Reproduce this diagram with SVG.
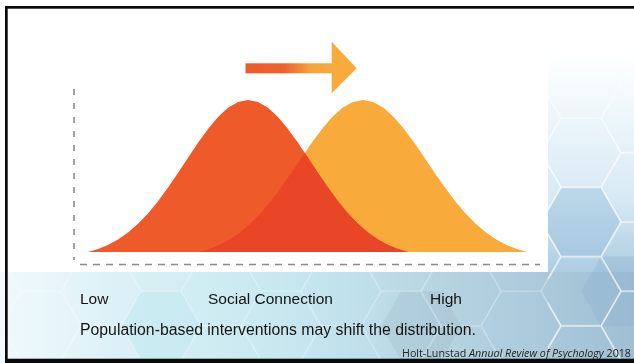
<svg xmlns="http://www.w3.org/2000/svg" width="634" height="363" viewBox="0 0 634 363">
  <defs>
    <style>
      .lbl { font-family: "Liberation Sans", Arial, sans-serif; font-size: 15.5px; fill: #141414; }
      .cite { font-family: "Open Sans", "Liberation Sans", sans-serif; font-size: 10.5px; fill: #222; }
      .axis { fill: none; stroke: #8a8a8a; stroke-width: 1.6; }
      .frame { fill: #0a0a0a; }
    </style>
    <linearGradient id="gRight" x1="0" y1="0" x2="0" y2="363" gradientUnits="userSpaceOnUse">
      <stop offset="0" stop-color="#ffffff"/>
      <stop offset="0.14" stop-color="#ffffff"/>
      <stop offset="0.3" stop-color="#f0f7fb"/>
      <stop offset="0.55" stop-color="#d6e9f4"/>
      <stop offset="0.75" stop-color="#adcde3"/>
      <stop offset="1" stop-color="#9dbcd2"/>
    </linearGradient>
    <linearGradient id="gBottom" x1="0" y1="0" x2="634" y2="0" gradientUnits="userSpaceOnUse">
      <stop offset="0" stop-color="#f1f9fc"/>
      <stop offset="0.22" stop-color="#d7f0f6"/>
      <stop offset="0.5" stop-color="#c4e5ee"/>
      <stop offset="0.72" stop-color="#b4d2e0"/>
      <stop offset="1" stop-color="#a0bfd4"/>
    </linearGradient>
    <linearGradient id="gArrow" x1="245" y1="0" x2="332" y2="0" gradientUnits="userSpaceOnUse">
      <stop offset="0" stop-color="#EE5A2A"/>
      <stop offset="0.45" stop-color="#EF602B"/>
      <stop offset="0.75" stop-color="#F6A23A"/>
      <stop offset="1" stop-color="#F8AA3B"/>
    </linearGradient>
    <pattern id="honey" x="1" y="14.08" width="120" height="69.28" patternUnits="userSpaceOnUse">
      <path d="M0,34.64 L20,0 L60,0 L80,34.64 L60,69.28 L20,69.28 Z M80,34.64 L120,34.64" fill="none" stroke="#ffffff" stroke-width="1.6" stroke-opacity="0.75"/>
    </pattern>
    <linearGradient id="fadeG" x1="0" y1="40" x2="0" y2="140" gradientUnits="userSpaceOnUse">
      <stop offset="0" stop-color="#fff" stop-opacity="0"/>
      <stop offset="1" stop-color="#fff" stop-opacity="1"/>
    </linearGradient>
    <mask id="fadeM">
      <rect x="0" y="0" width="634" height="363" fill="url(#fadeG)"/>
    </mask>
    <clipPath id="redClip">
      <polygon points="88,252 98,248.99 108,244.88 118,239.45 128,232.48 138,223.81 148,213.38 158,201.24 168,187.6 178,172.91 188,157.71 198,142.77 208,128.9 218,116.97 228,107.78 238,101.98 248,100 258,101.98 268,107.78 278,116.97 288,128.9 298,142.77 308,157.71 318,172.91 328,187.6 338,201.24 348,213.38 358,223.81 368,232.48 378,239.45 388,244.88 398,248.99 408,252"/>
    </clipPath>
  </defs>

  <g id="background">
    <rect x="0" y="0" width="634" height="363" fill="#ffffff"/>
    <rect x="548" y="0" width="86" height="363" fill="url(#gRight)"/>
    <rect x="0" y="272" width="634" height="91" fill="url(#gBottom)"/>
    <polygon points="561,187.3 601,187.3 621,221.9 601,256.6 561,256.6 541,221.9" fill="#8fb8d6" opacity="0.4"/>
    <polygon points="601,256.6 641,256.6 661,291.2 641,325.9 601,325.9 581,291.2" fill="#8db3cf" opacity="0.35"/>
    <polygon points="401,291.2 441,291.2 461,325.9 441,360.5 401,360.5 381,325.9" fill="#9fb6c6" opacity="0.3"/>
    <polygon points="141,291.2 181,291.2 201,325.9 181,360.5 141,360.5 121,325.9" fill="#bfe6f0" opacity="0.45"/>
    <g mask="url(#fadeM)">
      <rect x="548" y="40" width="86" height="323" fill="url(#honey)"/>
      <rect x="0" y="272" width="548" height="91" fill="url(#honey)" opacity="0.4"/>
    </g>
  </g>

  <g id="panel">
    <rect x="60" y="34" width="488" height="238" fill="#ffffff"/>
  </g>

  <g id="axes">
    <line class="axis" x1="74" y1="89" x2="74" y2="260" stroke-dasharray="6 8"/>
    <line class="axis" x1="80" y1="264.5" x2="540" y2="264.5" stroke-dasharray="7 6"/>
  </g>

  <g id="curves">
    <polygon id="orange-curve" fill="#F8AA3B" points="199,252 209.25,248.99 219.5,244.88 229.75,239.45 240,232.48 250.25,223.81 260.5,213.38 270.75,201.24 281,187.6 291.25,172.91 301.5,157.71 311.75,142.77 322,128.9 332.25,116.97 342.5,107.78 352.75,101.98 363,100 373.25,101.98 383.5,107.78 393.75,116.97 404,128.9 414.25,142.77 424.5,157.71 434.75,172.91 445,187.6 455.25,201.24 465.5,213.38 475.75,223.81 486,232.48 496.25,239.45 506.5,244.88 516.75,248.99 527,252"/>
    <polygon id="red-curve" fill="#EE5A2A" points="88,252 98,248.99 108,244.88 118,239.45 128,232.48 138,223.81 148,213.38 158,201.24 168,187.6 178,172.91 188,157.71 198,142.77 208,128.9 218,116.97 228,107.78 238,101.98 248,100 258,101.98 268,107.78 278,116.97 288,128.9 298,142.77 308,157.71 318,172.91 328,187.6 338,201.24 348,213.38 358,223.81 368,232.48 378,239.45 388,244.88 398,248.99 408,252"/>
    <polygon id="overlap" fill="#E84626" clip-path="url(#redClip)" points="199,252 209.25,248.99 219.5,244.88 229.75,239.45 240,232.48 250.25,223.81 260.5,213.38 270.75,201.24 281,187.6 291.25,172.91 301.5,157.71 311.75,142.77 322,128.9 332.25,116.97 342.5,107.78 352.75,101.98 363,100 373.25,101.98 383.5,107.78 393.75,116.97 404,128.9 414.25,142.77 424.5,157.71 434.75,172.91 445,187.6 455.25,201.24 465.5,213.38 475.75,223.81 486,232.48 496.25,239.45 506.5,244.88 516.75,248.99 527,252"/>
  </g>

  <g id="arrow">
    <rect x="245.5" y="63.3" width="87" height="10" fill="url(#gArrow)"/>
    <polygon points="331.7,41.7 356.7,68.2 331.7,93.3" fill="#F8AA3B"/>
  </g>

  <g id="labels">
    <text class="lbl" x="80" y="304">Low</text>
    <text class="lbl" x="208" y="304">Social Connection</text>
    <text class="lbl" x="430" y="304">High</text>
    <text class="lbl" x="80" y="335" style="font-size:15.8px" textLength="396" lengthAdjust="spacingAndGlyphs">Population-based interventions may shift the distribution.</text>
    <text class="cite" x="402" y="357" textLength="229" lengthAdjust="spacingAndGlyphs">Holt-Lunstad <tspan font-style="italic">Annual Review of Psychology</tspan> 2018</text>
  </g>

  <g id="frame">
    <rect class="frame" x="5" y="6" width="629" height="2.7"/>
    <rect class="frame" x="5" y="6" width="2.7" height="357"/>
    <rect class="frame" x="5" y="358.7" width="629" height="4.3"/>
  </g>
</svg>
